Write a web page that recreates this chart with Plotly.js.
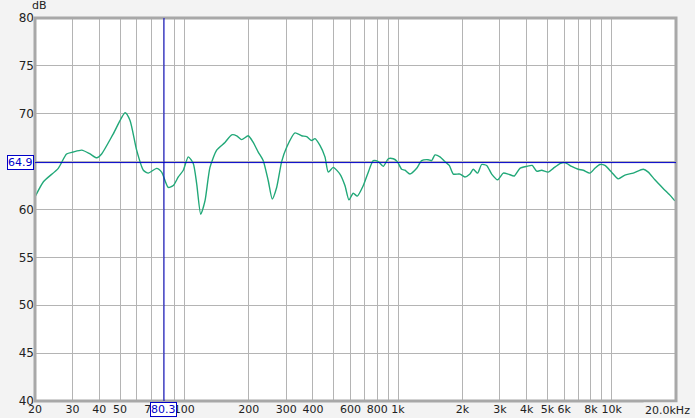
<!DOCTYPE html>
<html>
<head>
<meta charset="utf-8">
<script src="https://cdn.plot.ly/plotly-3.0.1.min.js"></script>
<style>
html,body{margin:0;padding:0;background:#f3f3f3;}
#chart{width:695px;height:418px;}
</style>
</head>
<body>
<div id="chart"></div>
<script>
// Frequency (Hz) and SPL (dB)
const freqHz = [20,21.9,25.7,28.1,30.2,33.1,36.2,38.9,41.0,46.5,52.8,55.7,59.8,64.3,67.8,74.2,78.3,84.1,88.8,93.7,98.9,104.3,110.1,114.2,119.3,124.9,131.8,141.7,154.9,166.6,175.8,185.5,199.1,210.1,221.7,234.0,247.0,257.8,270.4,285.4,301.2,329.4,354.0,373.6,394.3,408.6,431.2,455.1,471.6,497.7,534.8,564.4,589.4,617.3,644.5,687.8,725.9,766.1,808.5,853.3,900.5,950.4,992.3,1040,1078,1137,1223,1290,1385,1437,1489,1572,1659,1737,1814,1914,1949,2057,2171,2250,2359,2463,2600,2744,2928,3109,3281,3501,3721,3999,4248,4455,4701,5049,5328,5725,6042,6494,6974,7359,7910,8348,8810,9297,9990,10730,11535,12615,14050,14830,15930,17420,18730,19770];
const splDb = [61.3,62.9,64.3,65.8,66.0,66.2,65.8,65.4,65.8,67.9,70.1,69.3,66.2,64.1,63.8,64.3,63.9,62.3,62.5,63.4,64.1,65.5,64.8,62.7,59.5,60.9,64.4,66.2,67.0,67.8,67.7,67.3,67.7,67.0,66.0,65.1,63.0,61.1,62.3,65.0,66.5,68.0,67.7,67.6,67.2,67.4,66.7,65.5,63.9,64.4,63.7,62.5,61.0,61.7,61.4,62.5,63.9,65.1,65.0,64.5,65.3,65.3,65.0,64.2,64.1,63.7,64.3,65.1,65.2,65.1,65.7,65.5,65.0,64.6,63.7,63.7,63.7,63.4,63.7,64.2,63.8,64.7,64.6,63.7,63.1,63.8,63.7,63.5,64.3,64.5,64.6,64.0,64.1,63.9,64.3,64.8,64.9,64.5,64.2,64.1,63.8,64.3,64.7,64.6,63.9,63.2,63.6,63.8,64.2,63.9,63.1,62.2,61.5,60.9];

const gridFreqs = [20,30,40,50,60,70,80,90,100,200,300,400,500,600,700,800,900,1000,2000,3000,4000,5000,6000,7000,8000,9000,10000,20000];
const gridLabels = ['20','30','40','50','','70','','','100','200','300','400','','600','','800','','1k','2k','3k','4k','5k','6k','','8k','','10k',''];
const yTicks = [40,45,50,55,60,65,70,75,80];
const yLabels = ['40','45','50','55','60','','70','75','80'];
const cursorFreq = 80.3;
const cursorDb = 64.9;

const blue = '#0000c8';

const trace = {
  x: freqHz, y: splDb, type: 'scatter', mode: 'lines',
  line: {color: '#21a878', width: 1.4, shape: 'spline', smoothing: 0.6},
  hoverinfo: 'skip'
};

const layout = {
  width: 695, height: 418,
  margin: {l: 35, r: 19, t: 18, b: 17},
  paper_bgcolor: '#f3f3f3',
  plot_bgcolor: '#ffffff',
  showlegend: false,
  font: {family: 'DejaVu Sans, Verdana, sans-serif', size: 11, color: '#222'},
  xaxis: {
    type: 'log', range: [Math.log10(20), Math.log10(20000)],
    tickvals: gridFreqs, ticktext: gridLabels, tickangle: 0,
    showgrid: true, gridcolor: '#b4b4b4', gridwidth: 1,
    zeroline: false, showline: false, ticks: '', ticklen: 0,
    tickfont: {size: 11, color: '#222'}, automargin: false
  },
  yaxis: {
    range: [40, 80], tickvals: yTicks, ticktext: yLabels,
    showgrid: true, gridcolor: '#b4b4b4', gridwidth: 1,
    zeroline: false, showline: false, ticks: '',
    tickfont: {size: 12, color: '#222'}, automargin: false
  },
  shapes: [
    {type: 'rect', xref: 'paper', yref: 'paper', x0: 0, x1: 1, y0: 0, y1: 1,
     line: {color: '#a8a8a8', width: 3}, layer: 'above'},
    {type: 'line', xref: 'x', yref: 'paper', x0: cursorFreq, x1: cursorFreq, y0: 0, y1: 1,
     line: {color: blue, width: 1}},
    {type: 'line', xref: 'paper', yref: 'y', x0: 0, x1: 1, y0: cursorDb, y1: cursorDb,
     line: {color: blue, width: 1}}
  ],
  annotations: [
    {text: 'dB', xref: 'paper', yref: 'paper', x: 0, y: 1, xanchor: 'center', yanchor: 'bottom',
     xshift: 4, yshift: 4, showarrow: false, font: {size: 11, color: '#222'}},
    {text: '20.0kHz', xref: 'paper', yref: 'paper', x: 1, y: 0, xanchor: 'right', yanchor: 'top',
     xshift: 16, yshift: -1, showarrow: false, font: {size: 11, color: '#222'}, bgcolor: '#f3f3f3'},
    {text: cursorDb.toFixed(1), xref: 'paper', yref: 'y', x: 0, y: cursorDb, xanchor: 'right', yanchor: 'middle',
     xshift: -1, showarrow: false, font: {size: 11, color: blue}, bgcolor: '#ffffff',
     bordercolor: blue, borderwidth: 1, borderpad: 0},
    {text: cursorFreq.toFixed(1), xref: 'x', yref: 'paper', x: Math.log10(cursorFreq), y: 0, xanchor: 'center', yanchor: 'top',
     yshift: -1, showarrow: false, font: {size: 11, color: blue}, bgcolor: '#ffffff',
     bordercolor: blue, borderwidth: 1, borderpad: 0}
  ]
};

Plotly.newPlot('chart', [trace], layout, {staticPlot: true, displayModeBar: false});
</script>
</body>
</html>
